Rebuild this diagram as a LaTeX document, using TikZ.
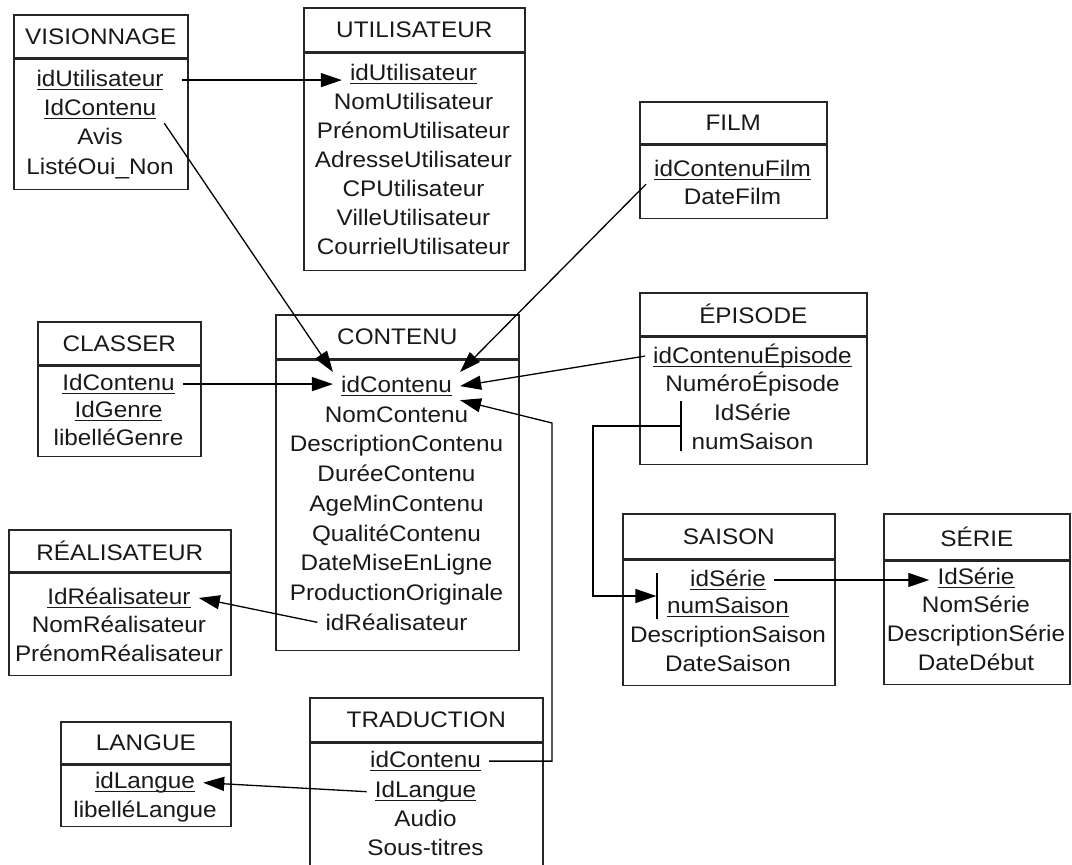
\documentclass[tikz,border=0pt]{standalone}
\usepackage{fontspec}
\setmainfont{Liberation Sans}[FakeStretch=1.08]
\usetikzlibrary{shapes,arrows,arrows.meta,positioning}

% underlined primary key
\newcommand{\pkey}[1]{\setbox0=\hbox{#1}\rlap{\rule[-3.5pt]{\wd0}{1.3pt}}\box0}

\tikzstyle{head} = [rectangle, draw=black!85, line width=1.6pt, inner sep=0pt, anchor=north west]
\tikzstyle{body} = [rectangle, draw=black!85, line width=1.6pt, inner sep=0pt]
\tikzstyle{attr} = [inner xsep=8pt, inner ysep=4pt, anchor=base]
\tikzstyle{line} = [draw, line width=1.3pt, -{Triangle[length=21pt, width=14pt]}]
\tikzstyle{fkbar} = [draw, line width=1.3pt, inner sep=0pt, minimum width=0pt]

\begin{document}
\begin{tikzpicture}[x=1pt, y=-1pt, font=\fontsize{22.5}{26}\selectfont, text=black!90]
	\useasboundingbox[fill=white] (0,0) rectangle (1072,865);

	% VISIONNAGE
	\node[head, minimum width=174pt, minimum height=43pt] (vis-h) at (13,14) {VISIONNAGE};
	\node[body, minimum width=174pt, minimum height=130pt, below=0pt of vis-h] (vis) {};
	\node[attr] (vis-idu) at (100,86.5) {\pkey{idUtilisateur}};
	\node[attr] (vis-idc) at (100,115.5) {\pkey{IdContenu}};
	\node[attr] (vis-avi) at (100,144.5) {Avis};
	\node[attr] (vis-lis) at (100,174.5) {ListéOui\_Non};

	% UTILISATEUR
	\node[head, minimum width=221pt, minimum height=44pt] (uti-h) at (303,7) {UTILISATEUR};
	\node[body, minimum width=221pt, minimum height=217pt, below=0pt of uti-h] (uti) {};
	\node[attr] (uti-idu) at (413.5,80.5) {\pkey{idUtilisateur}};
	\node[attr] (uti-nom) at (413.5,109.5) {NomUtilisateur};
	\node[attr] (uti-pre) at (413.5,138.5) {PrénomUtilisateur};
	\node[attr] (uti-adr) at (413.5,167.5) {AdresseUtilisateur};
	\node[attr] (uti-cp) at (413.5,196.5) {CPUtilisateur};
	\node[attr] (uti-vil) at (413.5,225.5) {VilleUtilisateur};
	\node[attr] (uti-cou) at (413.5,254.5) {CourrielUtilisateur};

	% FILM
	\node[head, minimum width=187pt, minimum height=42pt] (fil-h) at (639,101) {FILM};
	\node[body, minimum width=187pt, minimum height=73pt, below=0pt of fil-h] (fil) {};
	\node[attr] (fil-idc) at (732.5,176.5) {\pkey{idContenuFilm}};
	\node[attr] (fil-dat) at (732.5,204.5) {DateFilm};

	% CLASSER
	\node[head, minimum width=163pt, minimum height=43pt] (cla-h) at (37,321) {CLASSER};
	\node[body, minimum width=163pt, minimum height=90pt, below=0pt of cla-h] (cla) {};
	\node[attr] (cla-idc) at (118.5,390.5) {\pkey{IdContenu}};
	\node[attr] (cla-idg) at (118.5,417.5) {\pkey{IdGenre}};
	\node[attr] (cla-lib) at (118.5,445.5) {libelléGenre};

	% CONTENU
	\node[head, minimum width=243pt, minimum height=44pt] (con-h) at (275,314) {CONTENU};
	\node[body, minimum width=243pt, minimum height=290pt, below=0pt of con-h] (con) {};
	\node[attr] (con-id) at (396.5,392.5) {\pkey{idContenu}};
	\node[attr] (con-nom) at (396.5,422.5) {NomContenu};
	\node[attr] (con-des) at (396.5,451.5) {DescriptionContenu};
	\node[attr] (con-dur) at (396.5,481.5) {DuréeContenu};
	\node[attr] (con-age) at (396.5,511.5) {AgeMinContenu};
	\node[attr] (con-qua) at (396.5,541.5) {QualitéContenu};
	\node[attr] (con-dat) at (396.5,570.5) {DateMiseEnLigne};
	\node[attr] (con-pro) at (396.5,600.5) {ProductionOriginale};
	\node[attr] (con-idr) at (396.5,630.5) {idRéalisateur};

	% ÉPISODE
	\node[head, minimum width=227pt, minimum height=43pt] (epi-h) at (639,292) {ÉPISODE};
	\node[body, minimum width=227pt, minimum height=127pt, below=0pt of epi-h] (epi) {};
	\node[attr] (epi-idc) at (752.5,363.5) {\pkey{idContenuÉpisode}};
	\node[attr] (epi-num) at (752.5,391.5) {NuméroÉpisode};
	\node[attr] (epi-ids) at (752.5,420.5) {IdSérie};
	\node[attr] (epi-nsa) at (752.5,449.5) {numSaison};

	% RÉALISATEUR
	\node[head, minimum width=222pt, minimum height=42pt] (rea-h) at (8,529) {RÉALISATEUR};
	\node[body, minimum width=222pt, minimum height=102pt, below=0pt of rea-h] (rea) {};
	\node[attr] (rea-id) at (119,604.5) {\pkey{IdRéalisateur}};
	\node[attr] (rea-nom) at (119,632.5) {NomRéalisateur};
	\node[attr] (rea-pre) at (119,661.5) {PrénomRéalisateur};

	% SAISON
	\node[head, minimum width=212pt, minimum height=45pt] (sai-h) at (622,513) {SAISON};
	\node[body, minimum width=212pt, minimum height=125pt, below=0pt of sai-h] (sai) {};
	\node[attr] (sai-ids) at (728,586.5) {\pkey{idSérie}};
	\node[attr] (sai-nsa) at (728,613.5) {\pkey{numSaison}};
	\node[attr] (sai-des) at (728,642.5) {DescriptionSaison};
	\node[attr] (sai-dat) at (728,671.5) {DateSaison};

	% SÉRIE
	\node[head, minimum width=186pt, minimum height=46pt] (ser-h) at (883,513) {SÉRIE};
	\node[body, minimum width=186pt, minimum height=123pt, below=0pt of ser-h] (ser) {};
	\node[attr] (ser-ids) at (976,584.5) {\pkey{IdSérie}};
	\node[attr] (ser-nom) at (976,612.5) {NomSérie};
	\node[attr] (ser-des) at (976,641.5) {DescriptionSérie};
	\node[attr] (ser-dat) at (976,670.5) {DateDébut};

	% LANGUE
	\node[head, minimum width=170pt, minimum height=42pt] (lan-h) at (60,721) {LANGUE};
	\node[body, minimum width=170pt, minimum height=61pt, below=0pt of lan-h] (lan) {};
	\node[attr] (lan-idl) at (145,788.5) {\pkey{idLangue}};
	\node[attr] (lan-lib) at (145,817.5) {libelléLangue};

	% TRADUCTION
	\node[head, minimum width=233pt, minimum height=44pt] (tra-h) at (309,697) {TRADUCTION};
	\node[body, minimum width=233pt, minimum height=122pt, below=0pt of tra-h] (tra) {};
	\node[attr] (tra-idc) at (425.5,767.5) {\pkey{idContenu}};
	\node[attr] (tra-idl) at (425.5,797.5) {\pkey{IdLangue}};
	\node[attr] (tra-aud) at (425.5,826.5) {Audio};
	\node[attr] (tra-sou) at (425.5,855.5) {Sous-titres};

	% foreign keys
	\path [line, shorten <=10pt] (vis-idu.east) -- (vis-idu.east -| uti-idu.west);
	\path [line] (vis-idc.south east) -- (con-id.north west);
	\path [line] (fil-idc.south west) -- (con-id.north east);
	\path [line] (cla-idc.east) -- (cla-idc.east -| con-id.west);
	\path [line] (epi-idc.west) -- (con-id.east);
	\coordinate (tra-up) at (552,423);
	\path [line] (tra-idc.east) -| (tra-up) -- (con-id.south east);
	\path [line] (con-idr.west) -- (rea-id.east);
	\path [line] (tra-idl.west) -- (lan-idl.east);
	\path [line] (sai-ids.east) -- (sai-ids.east -| ser-ids.west);

	\node[fkbar, minimum height=50pt] (epi-fk) at (681,426) {};
	\node[fkbar, minimum height=46pt] (sai-pk) at (657,596) {};
	\coordinate (fk-elbow) at (593,510);
	\path [line] (epi-fk) -| (fk-elbow) |- (sai-pk);
\end{tikzpicture}
\end{document}
